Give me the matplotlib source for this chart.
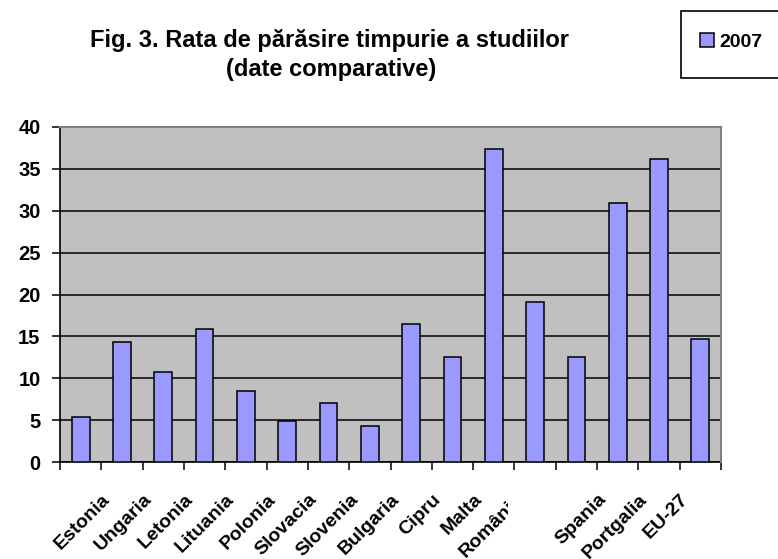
import numpy as np
import matplotlib
matplotlib.use('Agg')
import matplotlib.pyplot as plt
from matplotlib.patches import Rectangle
from matplotlib.transforms import Bbox, TransformedBbox, blended_transform_factory

plt.rcParams['font.family'] = 'Liberation Sans'
plt.rcParams['font.weight'] = 'bold'

# etichete sub fiecare categorie (ultima categorie fara eticheta)
tari = ['Estonia', 'Ungaria', 'Letonia', 'Lituania', 'Polonia', 'Slovacia',
        'Slovenia', 'Bulgaria', 'Cipru', 'Malta', 'România', '', 'Spania',
        'Portgalia', 'EU-27', '']
valori_2007 = [5.4, 14.3, 10.8, 15.9, 8.5, 4.9, 7.1, 4.3, 16.5, 12.5,
               37.4, 19.1, 12.6, 30.9, 36.1, 14.7]
yticks = [0, 5, 10, 15, 20, 25, 30, 35, 40]
serie = '2007'

W, H = 778, 559
fig = plt.figure(figsize=(W / 100, H / 100), dpi=100)
ax = fig.add_axes([60 / W, 1 - 462.3 / H, 661 / W, 335.6 / H])

x = np.arange(len(valori_2007))
bare = ax.bar(x, valori_2007, width=0.43, color='#9999FF', edgecolor='black',
              linewidth=1.1, zorder=3, label=serie)

ax.set_facecolor('#C0C0C0')
ax.set_xlim(-0.5, len(valori_2007) - 0.5)
ax.set_ylim(0, 40)
ax.set_yticks(yticks)
ax.set_xticks(np.arange(-0.5, len(valori_2007), 1))
ax.set_xticklabels([])
ax.yaxis.grid(True, color='black', linewidth=1.1, zorder=1)
ax.set_axisbelow(True)
ax.tick_params(axis='both', direction='out', length=6, width=1.1,
               labelsize=14.5, pad=8)
for s in ['left', 'bottom']:
    ax.spines[s].set_color('black')
    ax.spines[s].set_linewidth(1.2)
for s in ['top', 'right']:
    ax.spines[s].set_color('#808080')
    ax.spines[s].set_linewidth(1.5)
    ax.spines[s].set_zorder(4)

trans = blended_transform_factory(ax.transData, ax.transAxes)
clip = TransformedBbox(Bbox.from_extents(0, 0, 508 / W, 1), fig.transFigure)
for i, t in enumerate(tari):
    if not t:
        continue
    txt = ax.text(i + 0.8, -0.085, t, transform=trans, rotation=45,
                  ha='right', va='top', fontsize=14, clip_on=False)
    if t == 'România':
        txt.set_clip_on(True)
        txt.set_clip_box(clip)

fig.text(329 / W, 1 - 40 / H, 'Fig. 3. Rata de părăsire timpurie a studiilor',
         ha='center', va='center', fontsize=17)
fig.text(331 / W, 1 - 70 / H, '(date comparative)',
         ha='center', va='center', fontsize=17)

# caseta legendei
fig.patches.append(Rectangle((681 / W, 1 - 78 / H), 110 / W, 67 / H,
                             transform=fig.transFigure, facecolor='white',
                             edgecolor='black', linewidth=1.2, clip_on=False))
leg = fig.legend(handles=[bare], labels=[serie], loc='center left',
                 bbox_to_anchor=(700 / W, 1 - 42 / H), frameon=False,
                 fontsize=14, handlelength=0.7, handleheight=0.7,
                 handletextpad=0.3, borderpad=0, borderaxespad=0)

fig.savefig('out.png', dpi=100)
